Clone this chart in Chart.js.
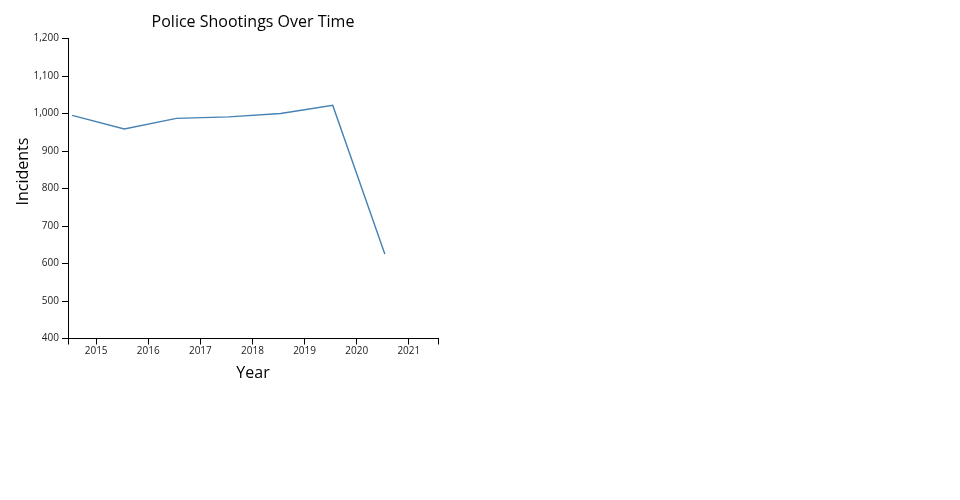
<!DOCTYPE html>
<html>
<head>
<meta charset="utf-8">
<script src="https://cdn.jsdelivr.net/npm/chart.js@4"></script>
<style>
  html, body { margin: 0; padding: 0; background: #fff; }
  #wrap { width: 960px; height: 500px; }
</style>
</head>
<body>
<div id="wrap"><canvas id="c" width="960" height="500"></canvas></div>
<script>
// Data
const years = [2015, 2016, 2017, 2018, 2019, 2020, 2021];
// plotted position of each point on the time axis (decimal years, as drawn)
const plottedDates = [2014.54, 2015.54, 2016.54, 2017.54, 2018.54, 2019.54, 2020.54];
const incidents = [995, 959, 987, 991, 1000, 1022, 625];
const xTickYears = [2015, 2016, 2017, 2018, 2019, 2020, 2021];
const xDomain = [2014.46, 2021.56];
const yTicks = [400, 500, 600, 700, 800, 900, 1000, 1100, 1200];

const titleText = 'Police Shootings Over Time';
const xTitle = 'Year';
const yTitle = 'Incidents';

const textPlugin = {
  id: 'texts',
  afterDraw(chart) {
    const ctx = chart.ctx;
    const a = chart.chartArea;
    const cx = (a.left + a.right) / 2;
    ctx.save();
    ctx.fillStyle = '#000';
    ctx.textAlign = 'center';
    ctx.textBaseline = 'middle';
    ctx.font = "16px 'Open Sans'";
    ctx.fillText(titleText, cx, 22);
    ctx.fillText(xTitle, cx, 373);
    ctx.translate(23, 171.5);
    ctx.rotate(-Math.PI / 2);
    ctx.fillText(yTitle, 0, 0);
    ctx.restore();
  }
};

new Chart(document.getElementById('c'), {
  type: 'line',
  data: {
    datasets: [{
      data: plottedDates.map((d, i) => ({ x: d, y: incidents[i] })),
      borderColor: '#4682b4',
      borderWidth: 1.5,
      pointRadius: 0,
      fill: false,
      tension: 0
    }]
  },
  options: {
    responsive: false,
    animation: false,
    layout: { padding: { top: 38.5, left: 0, right: 522, bottom: 0 } },
    plugins: { legend: { display: false }, title: { display: false }, tooltip: { enabled: false } },
    scales: {
      x: {
        type: 'linear',
        min: xDomain[0],
        max: xDomain[1],
        afterFit(s) { s.height = 161.5; },
        afterBuildTicks(s) {
          s.ticks = [{ value: xDomain[0] }].concat(xTickYears.map(v => ({ value: v })), [{ value: xDomain[1] }]);
        },
        border: { display: true, color: '#000', width: 1 },
        grid: { drawOnChartArea: false, drawTicks: true, tickLength: 6, color: '#000' },
        ticks: {
          autoSkip: false,
          maxRotation: 0,
          padding: 1,
          color: '#222',
          font: { family: "'Open Sans'", size: 10 },
          callback(v) { return xTickYears.includes(v) ? String(v) : ''; }
        }
      },
      y: {
        min: yTicks[0],
        max: yTicks[yTicks.length - 1],
        afterFit(s) { s.width = 68; },
        afterBuildTicks(s) { s.ticks = yTicks.map(v => ({ value: v })); },
        border: { display: true, color: '#000', width: 1 },
        grid: { drawOnChartArea: false, drawTicks: true, tickLength: 6, color: '#000' },
        ticks: {
          padding: 3,
          color: '#222',
          font: { family: "'Open Sans'", size: 10 },
          callback(v) { return v.toLocaleString('en-US'); }
        }
      }
    }
  },
  plugins: [textPlugin]
});
</script>
</body>
</html>
